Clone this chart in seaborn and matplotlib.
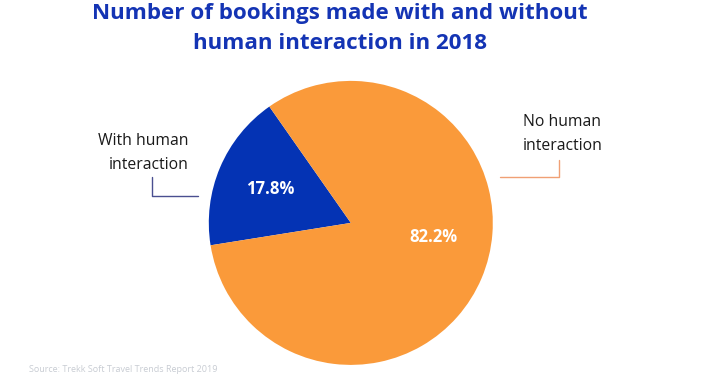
import matplotlib
matplotlib.use("Agg")
import matplotlib.pyplot as plt
import seaborn as sns
from matplotlib.lines import Line2D

categories = ["With human\ninteraction", "No human\ninteraction"]
values = [17.8, 82.2]
colors = ["#0433B4", "#FA9A3A"]
title = "Number of bookings made with and without\nhuman interaction in 2018"
source = "Source: Trekk Soft Travel Trends Report 2019"

sns.set_theme(style="white")
plt.rcParams['font.family'] = ['Open Sans', 'DejaVu Sans']

W, H = 701, 383
fig = plt.figure(figsize=(W / 100, H / 100), dpi=100)
fig.patch.set_facecolor("white")

cx, cy, r = 350.8, 222.9, 142
ax = fig.add_axes([(cx - r) / W, (H - cy - r) / H, 2 * r / W, 2 * r / H])
wedges, texts, autotexts = ax.pie(
    values, colors=colors, startangle=125.0, counterclock=True,
    radius=1.0, autopct=lambda p: f"{p:.1f}%", pctdistance=0.62,
    wedgeprops=dict(linewidth=0),
    textprops=dict(color="white", fontsize=12, fontweight="bold"))
autotexts[1].set_position((0.58, -0.10))
ax.set_xlim(-1, 1)
ax.set_ylim(-1, 1)
ax.set_aspect("equal")
ax.axis("off")

def fx(x):
    return x / W

def fy(y):
    return 1 - y / H

fig.text(fx(340), fy(28.5), title, ha="center", va="center", fontsize=16.1,
         fontweight="bold", color="#1434B4", linespacing=1.55)

fig.text(fx(189), fy(153), categories[0], ha="right", va="center", fontsize=11.3,
         color="#1a1a1a", linespacing=1.7)
fig.text(fx(523), fy(134), categories[1], ha="left", va="center", fontsize=11.3,
         color="#1a1a1a", linespacing=1.7)

fig.add_artist(Line2D([fx(152), fx(152), fx(198)], [fy(177), fy(195.5), fy(195.5)],
                      color="#4a4f90", lw=1, transform=fig.transFigure))
fig.add_artist(Line2D([fx(559), fx(559), fx(500)], [fy(160), fy(177), fy(177)],
                      color="#F0A075", lw=1, transform=fig.transFigure))

fig.text(fx(29), fy(369), source, ha="left", va="center", fontsize=6.5,
         color="#c8ccd3")

fig.savefig("out.png", dpi=100)
